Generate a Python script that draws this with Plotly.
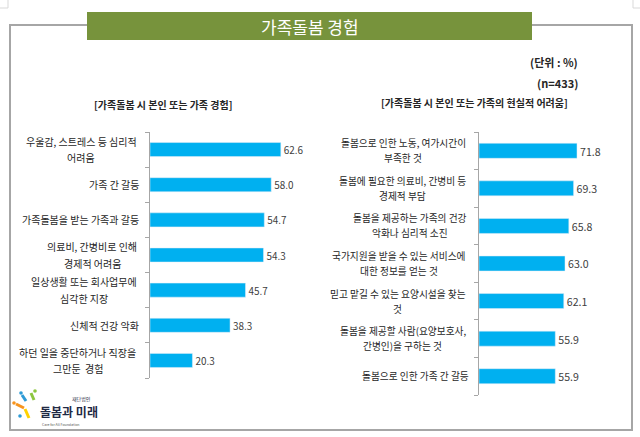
import plotly.graph_objects as go

FONT = "Noto Sans CJK KR"

left_categories = [
    "우울감, 스트레스 등 심리적<br>어려움",
    "가족 간 갈등",
    "가족돌봄을 받는 가족과 갈등",
    "의료비, 간병비로 인해<br>경제적 어려움",
    "일상생활 또는 회사업무에<br>심각한 지장",
    "신체적 건강 악화",
    "하던 일을 중단하거나 직장을<br>그만둔  경험",
]
left_values = [62.6, 58.0, 54.7, 54.3, 45.7, 38.3, 20.3]

right_categories = [
    "돌봄으로 인한 노동, 여가시간이<br>부족한 것",
    "돌봄에 필요한 의료비, 간병비 등<br>경제적 부담",
    "돌봄을 제공하는 가족의 건강<br>악화나 심리적 소진",
    "국가지원을 받을 수 있는 서비스에<br>대한 정보를 얻는 것",
    "믿고 맡길 수 있는 요양시설을 찾는<br>것",
    "돌봄을 제공할 사람(요양보호사,<br>간병인)을 구하는 것",
    "돌봄으로 인한 가족 간 갈등",
]
right_values = [71.8, 69.3, 65.8, 63.0, 62.1, 55.9, 55.9]

title_text = "가족돌봄 경험"
left_header = "[가족돌봄 시 본인 또는 가족 경험]"
right_header = "[가족돌봄 시 본인 또는 가족의 현실적 어려움]"
unit_text = "(단위 : %)"
n_text = "(n=433)"

W, H = 640, 437
BAR = "#00B0F0"
AXIS = "#A6A6A6"

def px(x):
    return x / W

def py(y):
    return 1 - y / H

fig = go.Figure()
left_ids = list(range(len(left_categories)))
right_ids = list(range(len(right_categories)))

fig.add_trace(go.Bar(
    x=left_values, y=left_ids, orientation="h", marker_color=BAR,
    text=[f"{v:.1f}" for v in left_values], textposition="outside",
    textfont=dict(size=12, color="#404040", family=FONT),
    cliponaxis=False, xaxis="x", yaxis="y", hoverinfo="skip",
))
fig.add_trace(go.Bar(
    x=right_values, y=right_ids, orientation="h", marker_color=BAR,
    text=[f"{v:.1f}" for v in right_values], textposition="outside",
    textfont=dict(size=12, color="#404040", family=FONT),
    cliponaxis=False, xaxis="x2", yaxis="y2", hoverinfo="skip",
))

yax = dict(
    range=[len(left_categories) - 0.5, -0.5], showline=True, linecolor=AXIS, linewidth=1,
    ticks="outside", ticklen=4, tickcolor=AXIS, tickmode="array",
    tickvals=[i - 0.5 for i in range(len(left_categories) + 1)],
    showticklabels=False, showgrid=False, zeroline=False, fixedrange=True,
)
fig.update_layout(
    width=W, height=H, margin=dict(l=0, r=0, t=0, b=0),
    paper_bgcolor="white", plot_bgcolor="rgba(0,0,0,0)",
    showlegend=False, bargap=0.6,
    font=dict(family=FONT, color="#262626"),
    xaxis=dict(domain=[px(150), px(150 + 80 * 2.09)], range=[0, 80], visible=False, fixedrange=True),
    yaxis=dict(domain=[py(378), py(132)], **yax),
    xaxis2=dict(domain=[px(479), px(479 + 100 * 1.365)], range=[0, 100], visible=False,
                anchor="y2", fixedrange=True),
    yaxis2=dict(domain=[py(395), py(132)], anchor="x2", **yax),
)

shapes = [
    # crop marks
    dict(type="line", xref="paper", yref="paper", x0=px(8), x1=px(8), y0=py(0), y1=py(8),
         line=dict(color="#D9D9D9", width=1)),
    dict(type="line", xref="paper", yref="paper", x0=px(0), x1=px(8), y0=py(8), y1=py(8),
         line=dict(color="#D9D9D9", width=1)),
    dict(type="line", xref="paper", yref="paper", x0=px(633), x1=px(633), y0=py(0), y1=py(8),
         line=dict(color="#D9D9D9", width=1)),
    dict(type="line", xref="paper", yref="paper", x0=px(633), x1=px(640), y0=py(8), y1=py(8),
         line=dict(color="#D9D9D9", width=1)),
    # outer frame
    dict(type="rect", xref="paper", yref="paper", x0=px(10), x1=px(632), y0=py(430), y1=py(25),
         line=dict(color="#A6A6A6", width=2), fillcolor="rgba(0,0,0,0)", layer="below"),
    # title bar
    dict(type="rect", xref="paper", yref="paper", x0=px(87), x1=px(532), y0=py(40), y1=py(12),
         line=dict(width=0), fillcolor="#77933C"),
]

# simple logo figure
logo_parts = [
    ("#2E9BD6", 22, 395, 26, 401),
    ("#8DC63F", 31, 393, 34, 400),
    ("#F7941D", 16, 404, 24, 408),
    ("#FFD200", 25, 409, 29, 418),
]
for col, x0, y0, x1, y1 in logo_parts:
    shapes.append(dict(type="line", xref="paper", yref="paper", x0=px(x0), y0=py(y0),
                       x1=px(x1), y1=py(y1), line=dict(color=col, width=3)))
for col, cx, cy in [("#2E9BD6", 21, 393), ("#8DC63F", 35, 391), ("#F7941D", 14, 403), ("#2E9BD6", 20, 416)]:
    shapes.append(dict(type="circle", xref="paper", yref="paper", x0=px(cx - 1.8), x1=px(cx + 1.8),
                       y0=py(cy + 1.8), y1=py(cy - 1.8), fillcolor=col, line=dict(width=0)))
fig.update_layout(shapes=shapes)

def txt(text, x, y, size, color="#262626", xanchor="center", yref="paper", yshift=0):
    return dict(text=text, x=x, y=y, xref="paper", yref=yref, xanchor=xanchor,
                yanchor="middle", align="center", showarrow=False, yshift=yshift,
                font=dict(size=size, color=color, family=FONT))

def est_width(s, size):
    w = 0.0
    for ch in s:
        if ord(ch) >= 0x1100:
            w += 1.0
        elif ch == " ":
            w += 0.224
        elif ch in ",()":
            w += 0.3
        else:
            w += 0.55
    return w * size

def category_labels(cats, right_px, yref, size, spacing):
    out = []
    for i, c in enumerate(cats):
        lines = c.split("<br>")
        if len(lines) == 1:
            out.append(txt(c, px(right_px), i, size, xanchor="right", yref=yref))
        else:
            block = max(est_width(s, size) for s in lines)
            cx = right_px - block / 2
            n = len(lines)
            for k, s in enumerate(lines):
                shift = ((n - 1) / 2 - k) * spacing
                out.append(txt(s, px(cx), i, size, xanchor="center", yref=yref, yshift=shift))
    return out

ann = []
ann.append(txt(title_text, px(310), py(26), 17, "white"))
ann.append(txt(f"<b>{unit_text}</b>", px(580), py(62), 11, xanchor="right"))
ann.append(txt(f"<b>{n_text}</b>", px(580), py(83), 11, xanchor="right"))
ann.append(txt(f"<b>{left_header}</b>", px(163), py(104), 10))
ann.append(txt(f"<b>{right_header}</b>", px(474), py(102), 10))

ann += category_labels(left_categories, 141, "y", 10, 16.5)
ann += category_labels(right_categories, 471, "y2", 9.7, 15)

# logo text
ann.append(txt("<b>돌봄과 미래</b>", px(38), py(411), 12, "#1F2A44", xanchor="left"))
ann.append(txt("재단법인", px(70), py(399), 5, "#1F2A44", xanchor="left"))
ann.append(txt("Care for All Foundation", px(40), py(424), 3.5, "#555555", xanchor="left"))
fig.update_layout(annotations=ann)

fig.write_html("out.html", config={"displayModeBar": False},
               post_script="document.body.style.margin='0';")
